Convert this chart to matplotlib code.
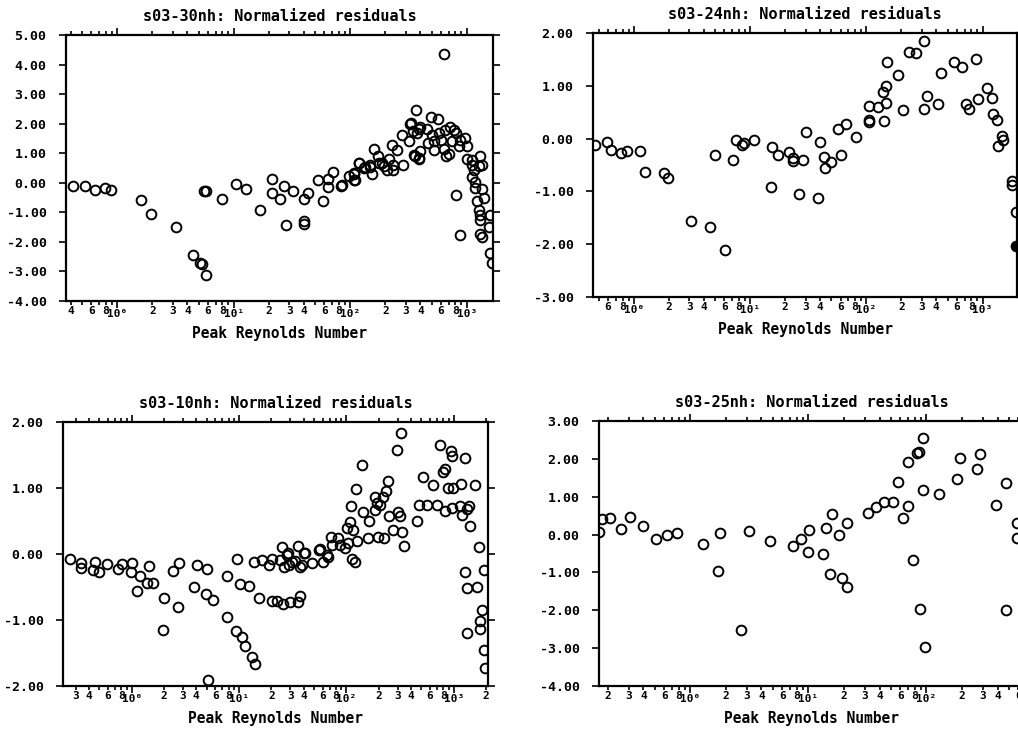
import numpy as np
import matplotlib
matplotlib.use('Agg')
import matplotlib.pyplot as plt
from matplotlib.ticker import LogLocator, FuncFormatter, FixedLocator

plt.rcParams['font.family'] = ['DejaVu Sans Mono']
plt.rcParams['font.weight'] = 'bold'

# s03-30nh
re_30 = [0.417, 0.531, 0.647, 0.789, 0.883, 1.61, 1.96, 3.21, 4.46, 5.1,
         5.3, 5.81, 5.6, 5.8, 7.92, 10.4, 12.8, 16.7, 21.5, 21.5,
         25.1, 27.1, 28.0, 32.0, 39.7, 39.7, 40.3, 43.0, 52.4, 58.3,
         64.3, 64.3, 70.5, 83.2, 96.8, 108, 108, 119, 130, 149,
         154, 161, 172, 187, 207, 213, 228, 232, 252, 278,
         283, 317, 332, 350, 369, 386, 386, 641, 493, 561,
         327, 394, 455, 345, 374, 502, 573, 654, 722, 771,
         813, 461, 519, 601, 747, 880, 971, 851, 1005, 399,
         519, 641, 361, 386, 667, 698, 1004, 1109, 118, 135,
         149, 175, 193, 235, 1109, 1143, 1262, 1351, 1109, 1175,
         1175, 1351, 1396, 813, 1225, 1262, 1288, 1288, 869, 1306,
         1351, 1538, 1595, 1595, 1645, 85, 107, 110, 1288]
res_30 = [-0.12, -0.10, -0.26, -0.19, -0.26, -0.58, -1.05, -1.50, -2.46, -2.70,
          -2.75, -3.13, -0.28, -0.29, -0.55, -0.04, -0.20, -0.92, 0.12, -0.35,
          -0.55, -0.12, -1.42, -0.29, -1.28, -1.39, -0.55, -0.33, 0.10, -0.61,
          0.14, -0.15, 0.35, -0.10, 0.24, 0.33, 0.10, 0.67, 0.50, 0.55,
          0.31, 1.14, 0.92, 0.67, 0.44, 0.80, 1.29, 0.42, 1.12, 1.63,
          0.61, 1.40, 2.02, 0.95, 2.45, 0.84, 1.82, 4.36, 2.23, 2.16,
          1.99, 1.89, 1.82, 1.74, 1.68, 1.63, 1.68, 1.80, 1.89, 1.80,
          1.68, 1.35, 1.43, 1.46, 1.40, 1.46, 1.51, 1.23, 1.25, 1.06,
          1.10, 1.14, 0.92, 0.80, 0.92, 0.98, 0.80, 0.76, 0.67, 0.55,
          0.61, 0.67, 0.58, 0.61, 0.61, 0.44, 0.58, 0.61, 0.21, 0.01,
          -0.18, -0.21, -0.52, -0.43, -0.63, -0.92, -1.08, -1.25, -1.76, -1.73,
          -1.82, -1.48, -1.08, -2.38, -2.72, -0.07, 0.31, 0.10, 0.89]

# s03-24nh
re_24 = [0.46, 0.59, 0.64, 0.78, 0.87, 1.13, 1.24, 1.81, 1.97, 3.13,
         4.55, 4.96, 6.04, 7.12, 7.51, 8.58, 8.85, 10.7, 15.2, 15.5,
         17.3, 21.5, 23.3, 23.6, 26.1, 28.4, 30.3, 38.2, 40.0, 43.6,
         44.5, 49.8, 56.7, 60.6, 67, 81.6, 105, 106, 106, 125,
         138, 143, 148, 148, 152, 189, 208, 231, 270, 311,
         311, 330, 418, 438, 569, 663, 726, 766, 874, 920,
         1100, 1214, 1239, 1340, 1358, 1462, 1500, 1782, 1782, 1928]
res_24 = [-0.12, -0.06, -0.22, -0.28, -0.23, -0.23, -0.64, -0.65, -0.74, -1.56,
          -1.67, -0.31, -2.11, -0.41, -0.03, -0.12, -0.09, -0.03, -0.91, -0.16,
          -0.31, -0.25, -0.42, -0.36, -1.05, -0.40, 0.12, -1.13, -0.07, -0.34,
          -0.55, -0.44, 0.18, -0.31, 0.27, 0.03, 0.32, 0.36, 0.61, 0.59,
          0.88, 0.34, 0.67, 0.99, 1.46, 1.20, 0.54, 1.64, 1.62, 1.84,
          0.56, 0.80, 0.65, 1.24, 1.46, 1.35, 0.65, 0.57, 1.51, 0.75,
          0.95, 0.76, 0.46, 0.36, -0.14, 0.05, -0.02, -0.80, -0.88, -1.39]
re_24_filled = [1935]
res_24_filled = [-2.04]

# s03-10nh
re_10 = [0.266, 0.335, 0.335, 0.455, 0.439, 0.499, 0.585, 0.75, 0.81, 1.0,
         0.98, 1.11, 1.19, 1.38, 1.59, 1.46, 1.97, 2.0, 2.44, 2.72,
         2.78, 3.81, 4.03, 4.89, 5.07, 5.18, 5.69, 7.68, 7.68, 9.31,
         9.64, 10.2, 10.6, 11.4, 12.5, 13.1, 14.1, 13.8, 15.5, 16.3,
         19.2, 20.2, 20.2, 22.4, 25.5, 29.9, 35.2, 37.0, 24.1, 25.0,
         26.3, 28.8, 29.4, 33.3, 35.7, 38.4, 40.3, 47.6, 56.9, 61.1,
         68.0, 27.8, 31.0, 37.0, 41.2, 56.0, 65.6, 71.6, 73.1, 84.2,
         87.3, 97.2, 104, 101, 108, 116, 112, 120, 127, 110,
         123, 139, 142, 164, 160, 185, 185, 192, 206, 221,
         234, 246, 199, 224, 252, 274, 305, 316, 328, 345,
         295, 321, 453, 479, 561, 696, 832, 960, 1148, 1324,
         1400, 522, 638, 747, 802, 832, 893, 993, 939, 960,
         1164, 1277, 1189, 1422, 1585, 1277, 1342, 1342, 1641, 1738,
         1919, 1829, 1762, 1762, 1919, 1963]
res_10 = [-0.07, -0.13, -0.21, -0.12, -0.24, -0.27, -0.15, -0.22, -0.15, -0.13,
          -0.28, -0.56, -0.34, -0.44, -0.44, -0.18, -1.15, -0.66, -0.26, -0.81,
          -0.13, -0.50, -0.17, -0.60, -0.23, -1.91, -0.69, -0.34, -0.95, -1.16,
          -0.07, -0.45, -1.25, -1.40, -0.48, -1.56, -1.67, -0.12, -0.66, -0.09,
          -0.17, -0.07, -0.71, -0.71, -0.75, -0.73, -0.73, -0.64, -0.09, 0.11,
          -0.19, 0.01, -0.17, -0.10, 0.12, -0.17, 0.01, -0.14, 0.07, -0.12,
          -0.04, -0.02, -0.12, -0.19, 0.01, 0.06, -0.02, 0.26, 0.14, 0.24,
          0.14, 0.09, 0.16, 0.39, 0.49, 0.36, -0.07, -0.12, 0.19, 0.72,
          0.98, 1.35, 0.63, 0.50, 0.24, 0.87, 0.67, 0.77, 0.74, 0.87,
          0.95, 1.10, 0.26, 0.24, 0.58, 0.36, 0.64, 0.57, 0.34, 0.12,
          1.58, 1.84, 0.50, 0.74, 0.74, 0.74, 0.65, 0.70, 0.73, 0.68,
          0.73, 1.17, 1.05, 1.65, 1.25, 1.29, 1.00, 1.00, 1.56, 1.49,
          1.06, 1.46, 0.59, 0.42, 1.05, -0.28, -0.52, -1.19, -0.50, 0.10,
          -0.24, -0.85, -1.02, -1.14, -1.46, -1.72]

# s03-25nh
re_25 = [0.168, 0.177, 0.208, 0.256, 0.307, 0.398, 0.507, 0.635, 0.764, 1.27,
         1.72, 1.78, 2.66, 3.13, 4.72, 7.43, 8.64, 9.96, 10.2, 13.3,
         14.1, 15.2, 15.7, 18.2, 19.1, 21.1, 21.3, 31.7, 37.1, 43.6,
         51.7, 57.0, 63.6, 70.1, 70.1, 77.3, 82.6, 86.4, 88.1, 94.0,
         94.0, 97.1, 128, 182, 192, 269, 284, 386, 472, 469,
         581, 581]
res_25 = [0.07, 0.40, 0.44, 0.14, 0.46, 0.22, -0.13, -0.02, 0.03, -0.24,
          -0.97, 0.04, -2.51, 0.09, -0.17, -0.30, -0.13, -0.46, 0.11, -0.52,
          0.18, -1.03, 0.55, -0.01, -1.14, 0.31, -1.39, 0.58, 0.74, 0.85,
          0.87, 1.38, 0.44, 0.75, 1.92, -0.66, 2.16, 2.19, -1.96, 1.18,
          2.54, -2.98, 1.08, 1.46, 2.01, 1.74, 2.14, 0.78, 1.36, -1.99,
          0.30, -0.10]

W, H = 1018, 730
SUP = {'-': '\u207b', '0': '\u2070', '1': '\u00b9', '2': '\u00b2', '3': '\u00b3'}


def px_box(left, top, right, bottom):
    return [left / W, 1 - bottom / H, (right - left) / W, (bottom - top) / H]


def major_fmt(v, pos):
    e = str(int(round(np.log10(v))))
    return '10' + ''.join(SUP.get(c, c) for c in e)


def minor_fmt(v, pos):
    m = v / 10 ** np.floor(np.log10(v) + 1e-9)
    m = int(round(m))
    return str(m) if m in (2, 3, 4, 6, 8) else ''


def draw(ax, re, res, title, xlim, ylim):
    ax.plot(re, res, 'o', mfc='none', mec='black', ms=7, mew=1.4)
    ax.set_xscale('log')
    ax.set_xlim(xlim)
    ax.set_ylim(ylim)
    ax.xaxis.set_major_locator(LogLocator(base=10))
    ax.xaxis.set_minor_locator(LogLocator(base=10, subs=np.arange(2, 10), numticks=20))
    ax.xaxis.set_major_formatter(FuncFormatter(major_fmt))
    ax.xaxis.set_minor_formatter(FuncFormatter(minor_fmt))
    ax.yaxis.set_major_locator(FixedLocator(np.arange(ylim[0], ylim[1] + 0.5, 1.0)))
    ax.yaxis.set_major_formatter(FuncFormatter(lambda v, p: '%.2f' % v))
    ax.tick_params(which='both', direction='out', top=True, right=True, width=1.2)
    ax.tick_params(axis='x', which='both', labelsize=8, pad=4)
    ax.tick_params(axis='y', which='both', labelsize=9.5, pad=9)
    ax.tick_params(which='major', length=5)
    ax.tick_params(which='minor', length=3)
    for s in ax.spines.values():
        s.set_linewidth(1.6)
    ax.set_title(title, fontsize=11, fontweight='bold', pad=10)
    ax.set_xlabel('Peak Reynolds Number', fontsize=10.5, fontweight='bold', labelpad=5)


fig = plt.figure(figsize=(W / 100, H / 100), dpi=100)

ax1 = fig.add_axes(px_box(66, 35, 493, 301))
draw(ax1, re_30, res_30, 's03-30nh: Normalized residuals', (0.363, 1680), (-4, 5))

ax2 = fig.add_axes(px_box(593, 33, 1017, 297))
draw(ax2, re_24, res_24, 's03-24nh: Normalized residuals', (0.445, 1980), (-3, 2))
ax2.plot(re_24_filled, res_24_filled, 'o', mfc='black', mec='black', ms=7, mew=1.4)

ax3 = fig.add_axes(px_box(63, 422, 488, 686))
draw(ax3, re_10, res_10, 's03-10nh: Normalized residuals', (0.229, 2090), (-2, 2))

ax4 = fig.add_axes(px_box(599, 421, 1024, 686))
draw(ax4, re_25, res_25, 's03-25nh: Normalized residuals', (0.168, 670), (-4, 3))

# put the "10ⁿ" labels on the same baseline as the digit labels
fig.canvas.draw()
for ax in (ax1, ax2, ax3, ax4):
    for t in ax.xaxis.get_major_ticks() + ax.xaxis.get_minor_ticks():
        t.label1.set_verticalalignment('baseline')
    ax.xaxis.set_tick_params(which='both', pad=6.5)

fig.savefig('out.png', dpi=100)
